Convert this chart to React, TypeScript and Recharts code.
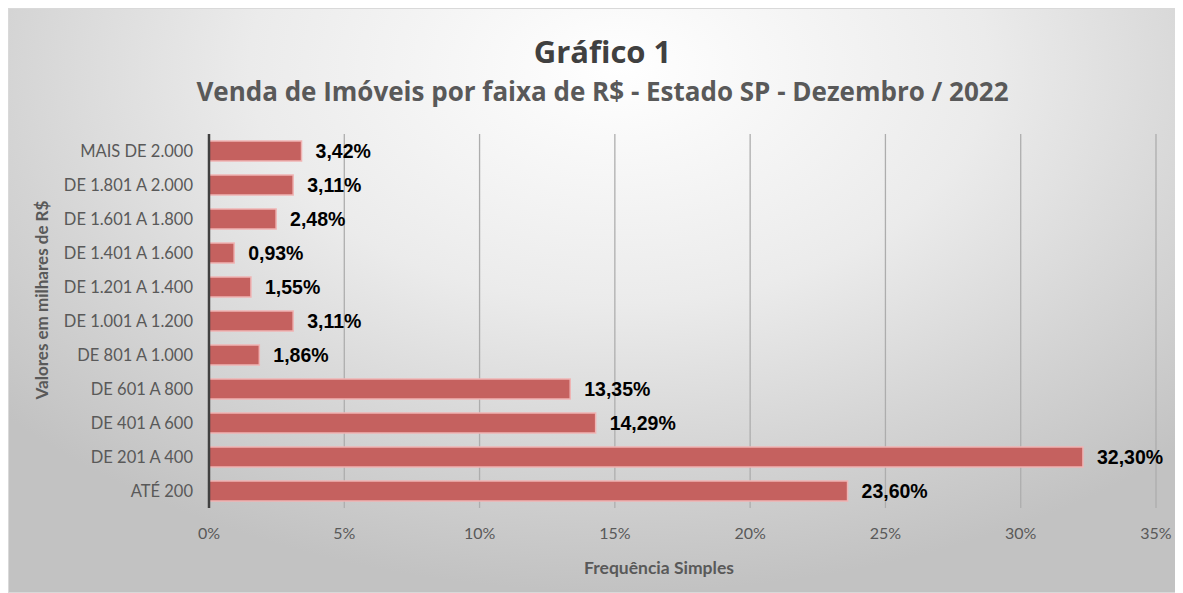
import React from "react";
import { BarChart, Bar, XAxis, YAxis, CartesianGrid, LabelList } from "recharts";

const categories = [
  "MAIS DE 2.000",
  "DE 1.801 A 2.000",
  "DE 1.601 A 1.800",
  "DE 1.401 A 1.600",
  "DE 1.201 A 1.400",
  "DE 1.001 A 1.200",
  "DE 801 A 1.000",
  "DE 601 A 800",
  "DE 401 A 600",
  "DE 201 A 400",
  "ATÉ 200",
];
const values = [3.42, 3.11, 2.48, 0.93, 1.55, 3.11, 1.86, 13.35, 14.29, 32.3, 23.6];
const xTicks = [0, 5, 10, 15, 20, 25, 30, 35];

const data = categories.map((c, i) => ({ cat: c, v: values[i] }));

const W = 1175;
const H = 585;
const labelFont = "Lato, 'Open Sans', sans-serif";
const titleFont = "'Open Sans', Lato, sans-serif";

const fmt = (v: number) => v.toFixed(2).replace(".", ",") + "%";

export default function App() {
  return (
    <div
      style={{
        position: "relative",
        width: W,
        height: H,
        boxSizing: "border-box",
        border: "1px solid #d9d9d9",
        background:
          "radial-gradient(ellipse 70% 90% at 52% 10%, #ffffff 0%, #ebebeb 45%, #d4d4d4 75%, #c2c2c2 100%)",
        fontFamily: labelFont,
      }}
    >
      <div
        style={{
          position: "absolute",
          left: 0,
          width: W,
          top: 22,
          textAlign: "center",
          fontSize: 31,
          fontWeight: 700,
          color: "#404040",
          lineHeight: "40px",
          fontFamily: titleFont,
          paddingLeft: 12,
          boxSizing: "border-box",
        }}
      >
        Gráfico 1
      </div>
      <div
        style={{
          position: "absolute",
          left: 0,
          width: W,
          top: 65,
          textAlign: "center",
          fontSize: 26,
          fontWeight: 700,
          color: "#595959",
          lineHeight: "34px",
          fontFamily: titleFont,
          paddingLeft: 12,
          boxSizing: "border-box",
        }}
      >
        Venda de Imóveis por faixa de R$ - Estado SP - Dezembro / 2022
      </div>
      <div
        style={{
          position: "absolute",
          left: 33 - 150,
          top: 291 - 11,
          width: 300,
          height: 22,
          lineHeight: "22px",
          textAlign: "center",
          transform: "rotate(-90deg)",
          fontSize: 17,
          fontWeight: 700,
          color: "#595959",
        }}
      >
        Valores em milhares de R$
      </div>
      <div
        style={{
          position: "absolute",
          left: 650 - 200,
          width: 400,
          top: 548,
          textAlign: "center",
          fontSize: 17.5,
          fontWeight: 700,
          color: "#595959",
          lineHeight: "22px",
        }}
      >
        Frequência Simples
      </div>
      <div style={{ position: "absolute", left: 0, top: 0 }}>
        <BarChart
          width={W}
          height={H}
          data={data}
          layout="vertical"
          margin={{ top: 125, right: 28, bottom: 56, left: 0 }}
          barCategoryGap={7}
        >
          <CartesianGrid horizontal={false} stroke="#adadad" strokeWidth={1.3} />
          <XAxis
            type="number"
            dataKey="v"
            domain={[0, 35]}
            ticks={xTicks}
            tickFormatter={(t: number) => `${t}%`}
            axisLine={false}
            tickLine={false}
            tickMargin={14}
            height={30}
            tick={{ fill: "#595959", fontSize: 16, fontFamily: labelFont }}
          />
          <YAxis
            type="category"
            dataKey="cat"
            width={200}
            axisLine={{ stroke: "#404040", strokeWidth: 2.5 }}
            tickLine={false}
            tickSize={6}
            tickMargin={10}
            interval={0}
            tick={{ fill: "#595959", fontSize: 16.5, fontFamily: labelFont }}
          />
          <Bar
            dataKey="v"
            fill="#c5615f"
            stroke="#f0b4b4"
            strokeWidth={1.5}
            isAnimationActive={false}
          >
            <LabelList
              dataKey="v"
              position="right"
              offset={14}
              formatter={(v: number) => fmt(v)}
              style={{
                fill: "#000000",
                fontSize: 19.5,
                fontWeight: 700,
                fontFamily: "'Liberation Sans', Arial, sans-serif",
              }}
            />
          </Bar>
        </BarChart>
      </div>
    </div>
  );
}
